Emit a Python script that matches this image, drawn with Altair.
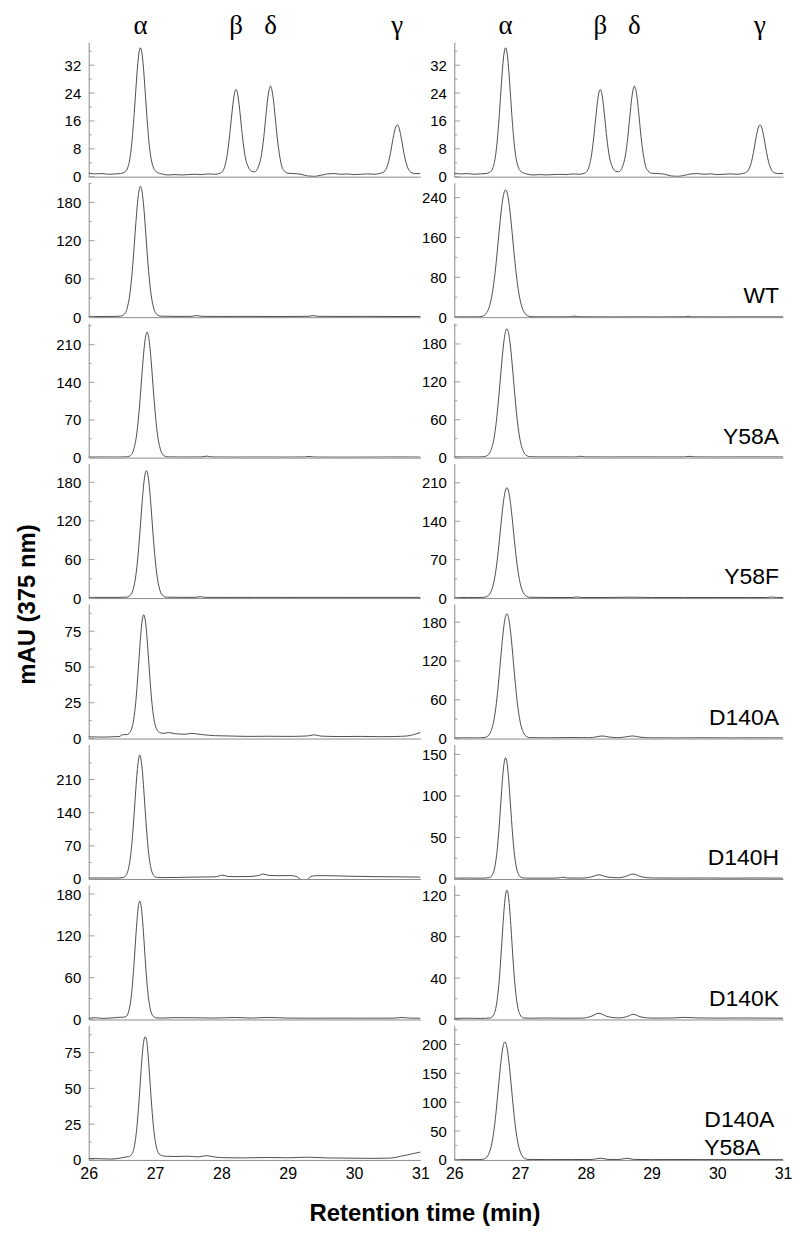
import altair as alt
import pandas as pd

# ---------------- data ----------------
# standard mixture (same trace on both columns)
std_x = [26.0, 26.1, 26.2, 26.3, 26.4, 26.48, 26.54, 26.58, 26.61, 26.64, 26.68, 26.71, 26.74, 26.76, 26.78,
         26.80, 26.82, 26.85, 26.88, 26.92, 26.95, 26.98, 27.02, 27.08, 27.2, 27.3, 27.4, 27.5, 27.6, 27.7, 27.8, 27.9,
         27.98, 28.02, 28.05, 28.08, 28.12, 28.15, 28.18, 28.20, 28.22, 28.24, 28.26, 28.29, 28.32, 28.36, 28.40, 28.45,
         28.50, 28.56, 28.60, 28.64, 28.67, 28.70, 28.72, 28.74, 28.76, 28.78, 28.81, 28.84, 28.88, 28.91, 28.95, 29.0,
         29.1, 29.2, 29.3, 29.4, 29.5, 29.6, 29.7, 29.8, 29.9, 30.0, 30.1, 30.2, 30.3, 30.38, 30.45, 30.48, 30.51, 30.55,
         30.58, 30.61, 30.63, 30.65, 30.67, 30.69, 30.72, 30.75, 30.79, 30.82, 30.86, 30.92, 31.0]
std_y = [1.0, 0.8, 0.9, 0.7, 0.8, 0.9, 1.3, 2.2, 4.1, 7.9, 16.5, 24.8, 32.5, 35.8, 37.0,
         35.8, 32.5, 24.8, 16.5, 7.9, 4.3, 2.4, 1.4, 0.9, 0.5, 0.6, 0.5, 0.6, 0.7, 0.6, 0.8, 0.7,
         1.0, 1.6, 2.9, 5.4, 11.1, 16.6, 21.8, 24.2, 25.0, 24.2, 21.8, 16.6, 11.1, 5.6, 3.0, 1.6,
         1.4, 3.0, 5.8, 11.5, 17.3, 22.7, 25.0, 26.0, 25.0, 22.7, 17.3, 11.5, 5.8, 3.0, 1.6, 1.0,
         0.9, 0.7, 0.2, 0.1, 0.4, 0.8, 0.9, 0.7, 0.8, 0.6, 0.7, 0.8, 0.7, 0.9, 1.4, 2.1, 3.6, 6.9,
         10.2, 13.1, 14.4, 14.9, 14.4, 13.1, 10.2, 6.9, 3.6, 2.1, 1.2, 0.9, 0.9]

# left column
lwt_x = [26.0, 26.2, 26.4, 26.48, 26.53, 26.58, 26.62, 26.65, 26.68, 26.70, 26.72, 26.74, 26.76, 26.78,
         26.80, 26.82, 26.84, 26.86, 26.88, 26.91, 26.94, 26.98, 27.03, 27.08,
         27.3, 27.55, 27.62, 27.7, 28.0, 28.4, 28.8, 29.2, 29.32, 29.38, 29.45, 29.8, 30.2, 30.6, 31.0]
lwt_y = [1.2, 1.0, 1.2, 1.6, 3.9, 14.1, 35.9, 64.6, 103.2, 132.2, 160.3, 183.8, 199.7, 205.2,
         199.7, 183.8, 160.3, 132.2, 103.2, 64.6, 35.9, 14.1, 3.9, 1.6,
         1.2, 1.3, 2.6, 1.3, 1.1, 1.2, 1.0, 1.2, 1.4, 2.5, 1.3, 1.1, 1.2, 1.0, 1.1]

ly58a_x = [26.0, 26.2, 26.4, 26.58, 26.63, 26.68, 26.72, 26.75, 26.78, 26.80, 26.82, 26.84, 26.86, 26.88,
           26.90, 26.92, 26.94, 26.96, 26.98, 27.01, 27.04, 27.08, 27.13, 27.18,
           27.4, 27.7, 27.78, 27.86, 28.2, 28.6, 29.0, 29.25, 29.32, 29.4, 29.8, 30.3, 30.7, 31.0]
ly58a_y = [1.0, 1.2, 1.0, 1.5, 4.0, 15.6, 40.4, 73.2, 117, 150, 182, 208.6, 226.7, 233,
           226.7, 208.6, 182, 150, 117, 73.2, 40.4, 15.6, 4.0, 1.5,
           1.1, 1.3, 2.8, 1.2, 1.0, 1.1, 1.0, 1.2, 2.2, 1.1, 0.9, 1.0, 1.2, 1.0]

ly58f_x = [26.0, 26.2, 26.4, 26.57, 26.62, 26.67, 26.71, 26.74, 26.77, 26.79, 26.81, 26.83, 26.85, 26.87,
           26.89, 26.91, 26.93, 26.95, 26.97, 27.00, 27.03, 27.07, 27.12, 27.17,
           27.4, 27.62, 27.68, 27.75, 28.1, 28.5, 29.0, 29.5, 30.0, 30.5, 31.0]
ly58f_y = [1.0, 1.1, 1.0, 1.4, 3.6, 13.4, 34.5, 62.3, 99.5, 127.5, 154.7, 177.3, 192.7, 198,
           192.7, 177.3, 154.7, 127.5, 99.5, 62.3, 34.5, 13.4, 3.6, 1.4,
           1.1, 1.2, 2.3, 1.1, 1.0, 1.1, 1.0, 1.1, 1.0, 1.1, 1.0]

ld140a_x = [26.0, 26.2, 26.4, 26.47, 26.5, 26.58, 26.63, 26.67, 26.70, 26.73, 26.75, 26.77, 26.79, 26.81, 26.83,
            26.85, 26.87, 26.89, 26.91, 26.93, 26.96, 26.99, 27.03, 27.08, 27.13,
            27.2, 27.3, 27.45, 27.55, 27.7, 27.9, 28.1, 28.4, 28.7, 29.0, 29.3, 29.4, 29.5, 29.8, 30.1, 30.4,
            30.6, 30.8, 30.9, 31.0]
ld140a_y = [1.2, 1.0, 1.3, 1.5, 2.6, 2.8, 4.9, 11.2, 21.1, 37, 50, 63.5, 75.4, 83.6, 86.5,
            83.6, 75.5, 63.5, 50.5, 37.5, 22, 12, 6, 4, 3.6,
            4.2, 3.4, 3.0, 3.6, 2.8, 2.0, 1.8, 1.5, 1.6, 1.5, 1.8, 2.6, 1.7, 1.4, 1.5, 1.3,
            1.4, 1.8, 2.8, 4.2]

ld140h_x = [26.0, 26.2, 26.4, 26.52, 26.57, 26.61, 26.64, 26.67, 26.69, 26.71, 26.73, 26.75, 26.77,
            26.79, 26.81, 26.83, 26.85, 26.87, 26.90, 26.93, 26.97, 27.02,
            27.1, 27.3, 27.6, 27.9, 28.02, 28.1, 28.2, 28.4, 28.55, 28.63, 28.72, 28.85, 29.05, 29.15, 29.22,
            29.27, 29.33, 29.42, 29.6, 29.9, 30.3, 30.7, 31.0]
ld140h_y = [2.0, 2.2, 2.0, 3.0, 9.5, 28.6, 59.3, 108, 148, 189.3, 226, 251, 262,
            251, 226, 189.3, 148, 108, 59.3, 28.6, 9.5, 3.5,
            3.0, 3.2, 4.0, 4.5, 8.0, 5.5, 5.0, 5.2, 7.0, 10.5, 7.5, 7.0, 7.2, 4.0, -3.0,
            -3.5, 3.5, 7.0, 7.0, 6.0, 5.0, 4.5, 4.0]

ld140k_x = [26.0, 26.1, 26.2, 26.35, 26.45, 26.52, 26.57, 26.61, 26.64, 26.67, 26.69, 26.71, 26.73, 26.75, 26.77,
            26.79, 26.81, 26.83, 26.85, 26.87, 26.90, 26.93, 26.97, 27.02,
            27.1, 27.3, 27.6, 27.9, 28.2, 28.45, 28.7, 29.0, 29.4, 29.8, 30.2, 30.6, 30.72, 30.85, 31.0]
ld140k_y = [1.6, 2.5, 1.6, 2.2, 3.0, 3.2, 4.9, 14.3, 31.9, 62.5, 89.5, 118.3, 144.6, 163.3, 170,
            163.3, 144.6, 118.3, 89.5, 62.5, 31.9, 14.3, 4.9, 2.3,
            2.0, 2.6, 2.4, 2.0, 2.8, 2.0, 2.9, 2.0, 1.8, 1.9, 1.8, 1.9, 2.8, 1.9, 1.8]

ldbl_x = [26.0, 26.2, 26.35, 26.5, 26.55, 26.60, 26.65, 26.69, 26.72, 26.75, 26.77, 26.79, 26.81, 26.83, 26.85,
          26.87, 26.89, 26.91, 26.93, 26.95, 26.98, 27.01, 27.05, 27.10, 27.15,
          27.3, 27.5, 27.65, 27.77, 27.88, 28.0, 28.3, 28.7, 29.0, 29.3, 29.6, 30.0, 30.3, 30.55, 30.7, 30.85, 31.0]
ldbl_y = [1.0, 0.8, 0.6, 1.5, 2.0, 2.3, 4.0, 9.8, 19.9, 35.9, 49.1, 62.7, 74.8, 83, 86,
          84.5, 76.3, 64.2, 50.6, 37.4, 21.4, 11.3, 5.0, 3.0, 2.6,
          2.4, 2.6, 2.1, 3.0, 2.2, 1.6, 1.4, 1.7, 1.5, 1.9, 1.4, 1.2, 1.1, 1.3, 2.5, 4.0, 5.5]

# right column
rwt_x = [26.0, 26.2, 26.35, 26.43, 26.48, 26.53, 26.58, 26.62, 26.65, 26.68, 26.70, 26.72, 26.74, 26.76, 26.78,
         26.80, 26.82, 26.84, 26.86, 26.88, 26.91, 26.94, 26.98, 27.03, 27.08, 27.13,
         27.2, 27.5, 27.75, 27.82, 27.9, 28.1, 28.4, 28.8, 29.1, 29.5, 29.56, 29.62, 30.0, 30.5, 31.0]
rwt_y = [0.5, 0.6, 0.5, 2.0, 6.7, 19.8, 49.4, 89.0, 127.4, 169.4, 196.5, 220.4, 239.2, 251.5, 255.5,
         251.5, 239.2, 220.4, 196.5, 169.4, 127.4, 89.0, 49.4, 19.8, 6.7, 2.0,
         0.8, 0.6, 0.7, 2.0, 0.8, 0.6, 0.5, 0.6, 0.5, 0.7, 1.6, 0.6, 0.5, 0.6, 0.5]

ry58a_x = [26.0, 26.2, 26.35, 26.45, 26.50, 26.55, 26.60, 26.64, 26.67, 26.70, 26.72, 26.74, 26.76, 26.78, 26.80,
           26.82, 26.84, 26.86, 26.88, 26.90, 26.93, 26.96, 27.00, 27.05, 27.10, 27.15,
           27.3, 27.6, 27.85, 27.92, 28.0, 28.4, 28.8, 29.2, 29.5, 29.58, 29.66, 30.0, 30.5, 31.0]
ry58a_y = [1.0, 1.1, 1.0, 1.4, 3.2, 9.9, 28.4, 57.4, 88.3, 124.2, 148.4, 170.5, 188.4, 199.9, 204,
           199.9, 188.4, 170.5, 148.4, 124.2, 88.3, 57.4, 28.4, 9.9, 3.2, 1.4,
           1.1, 1.2, 1.0, 2.2, 1.1, 1.0, 1.2, 1.0, 1.1, 2.0, 1.1, 1.0, 1.1, 1.0]

ry58f_x = [26.0, 26.2, 26.35, 26.45, 26.50, 26.55, 26.60, 26.64, 26.67, 26.70, 26.72, 26.74, 26.76, 26.78, 26.80,
           26.82, 26.84, 26.86, 26.88, 26.90, 26.93, 26.96, 27.00, 27.05, 27.10, 27.15,
           27.4, 27.8, 27.86, 27.94, 28.3, 28.7, 29.0, 29.5, 30.0, 30.5, 30.75, 30.82, 30.9, 31.0]
ry58f_y = [1.0, 1.1, 1.0, 1.4, 3.2, 9.8, 28, 56.6, 87, 122.4, 146.2, 168, 185.6, 197, 201,
           197, 185.6, 168, 146.2, 122.4, 87, 56.6, 28, 9.8, 3.2, 1.4,
           1.1, 1.0, 2.0, 1.1, 1.0, 1.6, 1.0, 1.1, 1.0, 1.1, 1.0, 2.0, 1.1, 1.0]

rd140a_x = [26.0, 26.2, 26.35, 26.45, 26.50, 26.55, 26.60, 26.64, 26.67, 26.70, 26.72, 26.74, 26.76, 26.78, 26.80,
            26.82, 26.84, 26.86, 26.88, 26.90, 26.93, 26.96, 27.00, 27.05, 27.10, 27.15,
            27.4, 27.8, 28.05, 28.15, 28.25, 28.35, 28.5, 28.62, 28.72, 28.82, 29.0, 29.4, 29.8, 30.2, 30.6, 31.0]
rd140a_y = [1.0, 1.1, 1.0, 1.4, 3.1, 9.4, 26.9, 54.4, 83.6, 117.5, 140.4, 161.3, 178.2, 189.2, 193,
            189.2, 178.2, 161.3, 140.4, 117.5, 83.6, 54.4, 26.9, 9.4, 3.1, 1.4,
            1.1, 1.6, 1.2, 2.5, 4.0, 2.4, 1.4, 2.8, 4.0, 2.2, 1.1, 1.0, 1.2, 1.0, 1.1, 1.0]

rd140h_x = [26.0, 26.2, 26.4, 26.53, 26.58, 26.62, 26.65, 26.68, 26.70, 26.72, 26.74, 26.76, 26.78,
            26.80, 26.82, 26.84, 26.86, 26.88, 26.91, 26.94, 26.98, 27.03,
            27.1, 27.4, 27.58, 27.65, 27.72, 27.95, 28.08, 28.2, 28.32, 28.5, 28.6, 28.72, 28.84, 29.0, 29.4,
            29.8, 30.2, 30.6, 31.0]
rd140h_y = [1.0, 1.2, 1.0, 1.6, 5.2, 15.9, 33.2, 60.6, 83.1, 106.3, 126.9, 140.9, 146,
            140.9, 126.9, 106.3, 83.1, 60.6, 33.2, 15.9, 5.2, 1.6,
            1.1, 1.0, 1.2, 2.2, 1.2, 1.1, 2.5, 5.0, 2.5, 1.5, 3.0, 6.0, 2.8, 1.3, 1.1,
            1.2, 1.0, 1.2, 1.0]

rd140k_x = [26.0, 26.2, 26.4, 26.55, 26.60, 26.64, 26.67, 26.70, 26.72, 26.74, 26.76, 26.78, 26.80,
            26.82, 26.84, 26.86, 26.88, 26.90, 26.93, 26.96, 27.00, 27.05,
            27.12, 27.4, 27.7, 27.95, 28.08, 28.2, 28.32, 28.5, 28.62, 28.72, 28.84, 29.0, 29.3, 29.5, 29.7,
            30.0, 30.4, 30.8, 31.0]
rd140k_y = [1.0, 1.2, 1.0, 1.5, 4.6, 13.8, 28.5, 52, 71.2, 91, 108.6, 120.7, 125,
            120.7, 108.6, 91, 71.2, 52, 28.5, 13.8, 4.6, 1.5,
            1.2, 1.4, 1.2, 1.3, 3.0, 6.0, 3.0, 1.5, 2.6, 5.0, 2.4, 1.3, 1.4, 2.0, 1.5,
            1.3, 1.4, 1.3, 1.2]

rdbl_x = [26.0, 26.2, 26.35, 26.42, 26.47, 26.52, 26.57, 26.61, 26.64, 26.67, 26.69, 26.71, 26.73, 26.75, 26.77,
          26.79, 26.81, 26.83, 26.85, 26.87, 26.90, 26.93, 26.97, 27.02, 27.07, 27.12,
          27.4, 27.8, 28.1, 28.22, 28.34, 28.5, 28.62, 28.74, 29.0, 29.4, 29.8, 30.2, 30.6, 31.0]
rdbl_y = [0.5, 0.6, 0.5, 0.9, 2.7, 9.5, 28, 57.2, 88.2, 124.3, 148.6, 170.8, 188.8, 200.4, 204.5,
          200.4, 188.8, 170.8, 148.6, 124.3, 88.2, 57.2, 28, 9.5, 2.7, 0.9,
          0.6, 0.7, 0.8, 3.0, 0.9, 0.7, 2.8, 0.8, 0.6, 0.7, 0.6, 0.5, 0.6, 0.5]

# axes / labels
x_ticks = [26, 27, 28, 29, 30, 31]
left_ymax = [38.6, 211, 250, 209, 94, 284, 193, 94]
left_ticks = [[0, 8, 16, 24, 32], [0, 60, 120, 180], [0, 70, 140, 210], [0, 60, 120, 180],
              [0, 25, 50, 75], [0, 70, 140, 210], [0, 60, 120, 180], [0, 25, 50, 75]]
right_ymax = [38.6, 270, 213, 245, 208, 162, 130, 233]
right_ticks = [[0, 8, 16, 24, 32], [0, 80, 160, 240], [0, 60, 120, 180], [0, 70, 140, 210],
               [0, 60, 120, 180], [0, 50, 100, 150], [0, 40, 80, 120], [0, 50, 100, 150, 200]]
greek_letters = ["α", "β", "δ", "γ"]
greek_times = [26.78, 28.22, 28.74, 30.65]
mutant_labels = [None, "WT", "Y58A", "Y58F", "D140A", "D140H", "D140K", "D140A\nY58A"]
x_title = "Retention time (min)"
y_title = "mAU (375 nm)"

left_traces = [(std_x, std_y), (lwt_x, lwt_y), (ly58a_x, ly58a_y), (ly58f_x, ly58f_y),
               (ld140a_x, ld140a_y), (ld140h_x, ld140h_y), (ld140k_x, ld140k_y), (ldbl_x, ldbl_y)]
right_traces = [(std_x, std_y), (rwt_x, rwt_y), (ry58a_x, ry58a_y), (ry58f_x, ry58f_y),
                (rd140a_x, rd140a_y), (rd140h_x, rd140h_y), (rd140k_x, rd140k_y), (rdbl_x, rdbl_y)]

# ---------------- chart ----------------
FONT = "Liberation Sans"
H = 135
WL = 333
WR = 330
AXC = "#8c8c8c"
TKC = "#a0a0a0"


def panel(xs, ys, ymax, ticks, width, bottom, greek=False, label=None, xtitle=False, ytitle=False):
    df = pd.DataFrame({"t": xs, "v": ys})
    xsc = alt.Scale(domain=[26, 31], nice=False, zero=False)
    ysc = alt.Scale(domain=[0, ymax], nice=False, zero=False)
    step = ticks[1] - ticks[0]
    minor = [t + step / 2 for t in ticks if t + step / 2 < ymax]

    xkw = dict(ticks=False, domain=True, domainColor=AXC, grid=False)
    if bottom:
        xkw.update(values=x_ticks, labels=True, labelFont=FONT, labelFontSize=16, labelColor="#000",
                   labelPadding=6, labelFlush=False, labelOverlap=False)
    else:
        xkw.update(labels=False)
    if xtitle:
        xkw.update(title=x_title, titleFont=FONT, titleFontSize=24, titleFontWeight="bold", titleColor="#000",
                   titleX=337, titleY=54, titleAlign="center", titleBaseline="middle")
    else:
        xkw.update(title=None)
    xax = alt.Axis(**xkw)

    ykw = dict(values=ticks, ticks=False, domain=True, domainColor=AXC, grid=False, labelFont=FONT,
               labelFontSize=15, labelColor="#000", labelPadding=8, labelOverlap=False)
    if ytitle:
        ykw.update(title=y_title, titleFont=FONT, titleFontSize=24, titleFontWeight="bold", titleColor="#000",
                   titleX=-61, titleY=H + 6, titleAngle=270, titleAlign="center", titleBaseline="middle")
    else:
        ykw.update(title=None)
    yax = alt.Axis(**ykw)

    line = alt.Chart(df).mark_line(color="#3a3a3a", strokeWidth=0.9, interpolate="monotone",
                                   clip=True).encode(
        x=alt.X("t:Q", scale=xsc, axis=xax),
        y=alt.Y("v:Q", scale=ysc, axis=yax))
    major = alt.Chart(pd.DataFrame({"tk": ticks})).mark_rule(color=TKC, strokeWidth=1).encode(
        y=alt.Y("tk:Q", scale=ysc, axis=yax), x=alt.value(0), x2=alt.value(6))
    minr = alt.Chart(pd.DataFrame({"tk": minor})).mark_rule(color=TKC, strokeWidth=1).encode(
        y=alt.Y("tk:Q", scale=ysc, axis=yax), x=alt.value(0), x2=alt.value(3))
    layers = [line, major, minr]
    if greek:
        gdf = pd.DataFrame({"g": greek_letters, "t": greek_times})
        layers.append(alt.Chart(gdf).mark_text(font="Liberation Serif", fontSize=27, baseline="alphabetic",
                                               dy=-8, color="#000").encode(
            x=alt.X("t:Q", scale=xsc, axis=xax), y=alt.value(0), text="g:N"))
    if label:
        ldf = pd.DataFrame({"lab": [label]})
        two = "\n" in label
        layers.append(alt.Chart(ldf).mark_text(font=FONT, fontSize=23, align="left" if two else "right",
                                               baseline="bottom", lineBreak="\n", lineHeight=28,
                                               color="#000").encode(
            x=alt.value(width - 79 if two else width - 4),
            y=alt.value(H - 28 if two else H - 9), text="lab:N"))
    return alt.layer(*layers).properties(width=width, height=H)


panels = []
for i in range(8):
    lx, ly = left_traces[i]
    rx, ry = right_traces[i]
    bottom = i == 7
    panels.append(panel(lx, ly, left_ymax[i], left_ticks[i], WL, bottom, greek=(i == 0),
                        xtitle=bottom, ytitle=(i == 3)))
    panels.append(panel(rx, ry, right_ymax[i], right_ticks[i], WR, bottom, greek=(i == 0),
                        label=mutant_labels[i]))

chart = alt.concat(*panels, columns=2, spacing=alt.RowColnumber(row=6, column=34), bounds="flush").properties(
    padding={"left": 8, "top": 2, "right": 0, "bottom": 0}, background="white"
).configure_view(strokeWidth=0, strokeOpacity=0)

chart.save("out.html", embed_options={"renderer": "svg", "actions": False})
